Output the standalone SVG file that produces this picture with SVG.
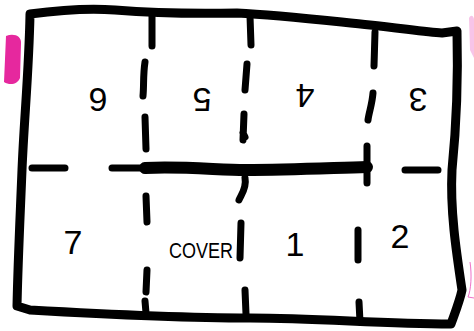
<svg xmlns="http://www.w3.org/2000/svg" width="474" height="331" viewBox="0 0 474 331">
<style>
.ink{fill:none;stroke:#000;stroke-linecap:round;stroke-linejoin:round}
.b{stroke-width:9}
.d{stroke-width:7}
.t{font-family:"Liberation Sans","DejaVu Sans",sans-serif;fill:#000;text-anchor:middle;dominant-baseline:central}
.n{font-size:34px}
</style>
<rect width="474" height="331" fill="#fff"/>
<g id="marks">
<path d="M6,36 C14,33 22,36 21,44 L20,78 C18,84 10,86 4,82 Z" fill="#e6289e"/>
<path d="M469,18 C471,14 474,16 474,20 L474,58 L470,50 Z" fill="#f7c4e8"/>
<path d="M470,262 C472,275 471,290 468,297 L474,298" fill="none" stroke="#ee70c8" stroke-width="1"/>
</g>
<g id="border">
<path class="ink b" d="M30,14 C60,10 90,8 115,10 C140,12 190,14 237,13 C280,15 330,21 370,25 C400,28 425,32 442,33 L457,31 C458,70 457,120 452,170 C450,210 456,250 462,290 C460,300 456,310 451,324 C380,324 320,318 250,318 C180,318 100,314 30,310 L17,306 C18,260 20,220 22,170 C24,120 29,70 30,14 Z"/>
</g>
<g id="folds">
<path class="ink d" d="M152,16 L152,46 M145,62 C143,75 144,85 143,96 M145,117 L146,149 M146,196 L147,222 M147,270 L146,292 M145,301 L146,313"/>
<path class="ink d" d="M250,16 L251,45 M247,64 L245,90 M244,114 L243,140 M243,133 L245,137 M245,178 C247,188 241,195 239,200 M241,223 L240,258 M245,290 L246,314"/>
<path class="ink d" d="M375,32 L374,66 M373,93 C372,105 369,112 368,120 M367,146 L367,183 M358,230 L358,260 M359,302 L360,322"/>
<path class="ink d" d="M32,168 L65,168 M112,168 L140,168 M405,170 L438,170"/>
<path class="ink" stroke-width="12" d="M145,168 C180,166 220,170 245,170 C290,170 330,168 367,167"/>
</g>
<g id="labels">
<text class="t n" transform="rotate(180 98 100)" x="98" y="100">6</text>
<text class="t n" transform="rotate(180 202 100)" x="202" y="100">5</text>
<text class="t n" transform="rotate(180 305 96)" x="305" y="96">4</text>
<text class="t n" transform="rotate(180 418 100)" x="418" y="100">3</text>
<text class="t n" x="73" y="242">7</text>
<text class="t" style="font-size:22px" x="201" y="250" textLength="64" lengthAdjust="spacingAndGlyphs">COVER</text>
<text class="t n" x="295" y="244">1</text>
<text class="t n" x="400" y="236">2</text>
</g>
</svg>
